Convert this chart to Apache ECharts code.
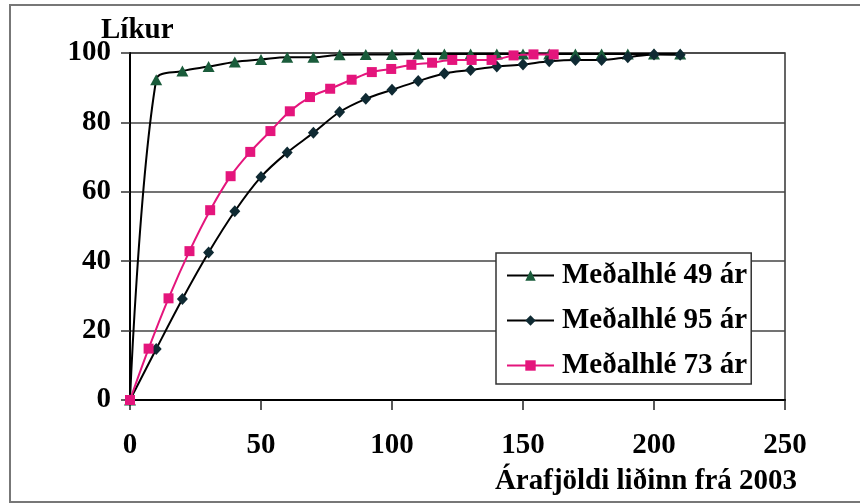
<!DOCTYPE html>
<html>
<head>
<meta charset="utf-8">
<script src="https://cdn.jsdelivr.net/npm/echarts@6/dist/echarts.min.js"></script>
<style>html,body{margin:0;padding:0;background:#fff}#c{width:860px;height:503px}</style>
</head>
<body>
<div id="c"></div>
<script>
// Data
var yearsA = [0,10,20,30,40,50,60,70,80,90,100,110,120,130,140,150,160,170,180,190,200,210];
var prob49 = [0,92.3,94.8,96.1,97.4,98.1,98.8,98.8,99.5,99.6,99.6,99.7,99.7,99.7,99.7,99.7,99.7,99.7,99.7,99.7,99.7,99.7];
var prob95 = [0,14.7,29.1,42.5,54.4,64.3,71.3,77.0,83.0,86.8,89.4,91.9,94.1,95.1,96.1,96.7,97.6,98.0,98.0,98.8,99.6,99.5];
var years73 = [0,7.1,14.7,22.7,30.6,38.4,45.9,53.6,61.0,68.7,76.4,84.6,92.3,99.7,107.4,115.3,123.0,130.4,138.0,146.4,154.0,161.7];
var prob73 = [0,14.8,29.3,42.9,54.7,64.5,71.5,77.5,83.2,87.3,89.7,92.3,94.5,95.4,96.6,97.2,98.0,98.0,98.0,99.3,99.6,99.6];
var seriesNames = ['Meðalhlé 49 ár','Meðalhlé 95 ár','Meðalhlé 73 ár'];
var xTicks = [0,50,100,150,200,250];
var yTicks = [0,20,40,60,80,100];
var yTitle = 'Líkur';
var xTitle = 'Árafjöldi liðinn frá 2003';

function pairs(xs, ys){ return xs.map(function(x,i){ return [x, ys[i]]; }); }

var FONT = '"Liberation Serif","Times New Roman",serif';
var FS = 29;
var chart = echarts.init(document.getElementById('c'), null, {renderer:'canvas'});
chart.setOption({
  animation:false,
  backgroundColor:'#fff',
  title:{text:yTitle,left:96,top:11,textStyle:{fontFamily:FONT,fontSize:FS,fontWeight:'bold',color:'#000'}},
  grid:{left:130,right:75,top:53,bottom:103,show:true,borderColor:'#333',borderWidth:1.5,containLabel:false},
  xAxis:{type:'value',min:xTicks[0],max:xTicks[xTicks.length-1],interval:50,
    axisLine:{show:true,onZero:false,lineStyle:{color:'#000',width:2}},
    axisTick:{show:true,inside:false,length:10,lineStyle:{color:'#222',width:1.5}},
    splitLine:{show:false},
    axisLabel:{margin:31,fontFamily:FONT,fontSize:FS,fontWeight:'bold',color:'#000'}},
  yAxis:{type:'value',min:yTicks[0],max:yTicks[yTicks.length-1],interval:20,
    axisLine:{show:true,lineStyle:{color:'#000',width:2}},
    axisTick:{show:true,inside:false,length:9,lineStyle:{color:'#333',width:1.5}},
    splitLine:{show:true,lineStyle:{color:'#444',width:1.5}},
    axisLabel:{margin:19,fontFamily:FONT,fontSize:FS,fontWeight:'bold',color:'#000'}},
  legend:{orient:'vertical',left:496,top:253,padding:[8,4,4,10],itemGap:16,itemWidth:47,itemHeight:13,
    backgroundColor:'#fff',borderColor:'#333',borderWidth:1.5,
    textStyle:{fontFamily:FONT,fontSize:FS,fontWeight:'bold',color:'#000',padding:[0,0,0,3]},
    data:seriesNames},
  series:[
    {name:seriesNames[0],type:'line',smooth:0.35,data:pairs(yearsA,prob49),symbol:'triangle',symbolSize:[12,11],
      lineStyle:{color:'#000',width:2},itemStyle:{color:'#1a5c3b'},z:3},
    {name:seriesNames[1],type:'line',smooth:0.35,data:pairs(yearsA,prob95),symbol:'diamond',symbolSize:[11,12],
      lineStyle:{color:'#000',width:2},itemStyle:{color:'#0f2a33'},z:4},
    {name:seriesNames[2],type:'line',smooth:0.35,data:pairs(years73,prob73),symbol:'rect',symbolSize:10,
      lineStyle:{color:'#e4157c',width:2},itemStyle:{color:'#e4157c'},z:5}
  ],
  graphic:[
    {type:'rect',shape:{x:10,y:5,width:870,height:497},style:{fill:null,stroke:'#777',lineWidth:2},z:-1,silent:true},
    {type:'text',right:63,top:467,style:{text:xTitle,font:'bold '+FS+'px '+FONT,fill:'#000'}}
  ]
});
</script>
</body>
</html>
